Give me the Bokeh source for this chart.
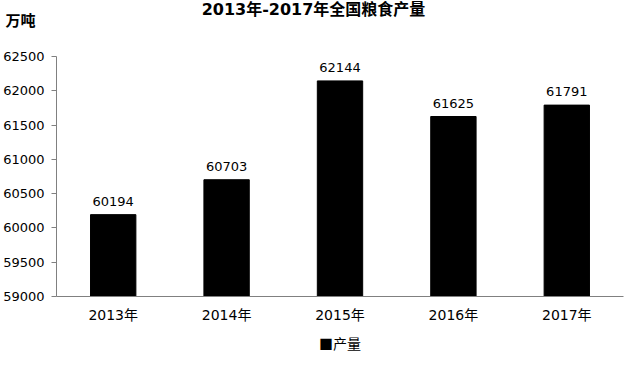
from bokeh.plotting import figure
from bokeh.models import ColumnDataSource, Title, Range1d, LabelSet, FixedTicker, Label
from bokeh.layouts import column
from bokeh.core.properties import value
from bokeh.embed import file_html
from bokeh.resources import INLINE

years = ["2013年", "2014年", "2015年", "2016年", "2017年"]
output = [60194, 60703, 62144, 61625, 61791]
y_ticks = [59000, 59500, 60000, 60500, 61000, 61500, 62000, 62500]
title_text = "2013年-2017年全国粮食产量"
unit_text = "万吨"
series_name = "产量"

FONT = "DejaVu Sans, Noto Sans CJK SC"
CJK = "Noto Sans CJK SC"

# --- header strip: title (label in the frame) and unit (as the strip's axis label) ---
head = figure(width=625, height=30, x_range=Range1d(0, 1), y_range=Range1d(0, 30),
              output_backend="svg", toolbar_location=None, x_axis_type=None,
              min_border_top=0, min_border_bottom=0, min_border_left=55, min_border_right=2)
head.outline_line_color = None
head.grid.visible = False
head.yaxis.ticker = FixedTicker(ticks=[10])
head.yaxis.major_label_overrides = {10: unit_text}
head.yaxis.axis_line_color = None
head.yaxis.major_tick_line_color = None
head.yaxis.minor_tick_line_color = None
head.yaxis.major_label_standoff = 15
head.yaxis.major_label_text_font = CJK
head.yaxis.major_label_text_font_size = "15px"
head.yaxis.major_label_text_font_style = "bold"
head.yaxis.major_label_text_color = "black"
head.add_layout(Label(x=257, y=21, x_units="screen", y_units="screen", text=title_text,
                      text_align="center", text_baseline="middle", text_font=FONT,
                      text_font_size="16px", text_font_style="bold", text_color="black"))

# --- main chart ---
src = ColumnDataSource(dict(x=years, top=output, lab=[str(v) for v in output]))

p = figure(width=625, height=327, x_range=years, y_range=Range1d(59000, 62500),
           output_backend="svg", toolbar_location=None,
           min_border_left=55, min_border_right=2, min_border_top=26, min_border_bottom=60)
p.outline_line_color = None
p.grid.visible = False
p.background_fill_color = "white"

r = p.vbar(x="x", top="top", bottom=59000, width=0.4, source=src,
           fill_color="black", line_color="black")

p.add_layout(LabelSet(x="x", y="top", text="lab", source=src, y_offset=9,
                      text_align="center", text_baseline="bottom",
                      text_font_size="13px", text_font=value("DejaVu Sans"), text_color="black"))

p.yaxis.ticker = FixedTicker(ticks=y_ticks)
p.yaxis.axis_line_color = "#808080"
p.yaxis.major_tick_line_color = "#808080"
p.yaxis.major_tick_in = 0
p.yaxis.major_tick_out = 5
p.yaxis.minor_tick_line_color = None
p.yaxis.major_label_text_font = "DejaVu Sans"
p.yaxis.major_label_text_font_size = "13px"
p.yaxis.major_label_text_color = "black"
p.yaxis.major_label_standoff = 7

p.xaxis.axis_line_color = "#808080"
p.xaxis.major_tick_line_color = None
p.xaxis.minor_tick_line_color = None
p.xaxis.major_label_text_font = FONT
p.xaxis.major_label_text_font_size = "14px"
p.xaxis.major_label_text_color = "black"
p.xaxis.major_label_standoff = 4

leg = Title(text="■" + series_name, align="center", text_font=CJK, text_font_size="14px",
            text_font_style="normal", text_color="black", standoff=10)
p.add_layout(leg, "below")

layout = column(head, p, spacing=0)
open("out.html", "w").write(file_html(layout, INLINE))
